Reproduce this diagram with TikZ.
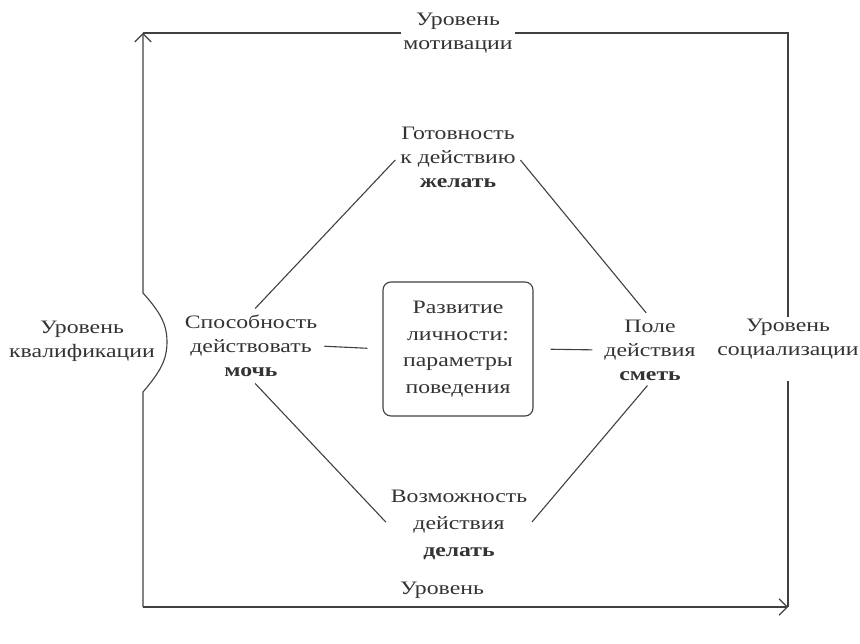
\documentclass[tikz,border=0pt]{standalone}
\usepackage{fontspec}
\setmainfont{Liberation Serif}[FakeStretch=1.25]
\usetikzlibrary{arrows.meta,calc}

\begin{document}
\begin{tikzpicture}[x=1pt, y=-1pt, >={Straight Barb[scale=2.2]},
    txt/.style={align=center, font=\fontsize{19}{24}\selectfont, text=black!80, inner sep=2pt},
    ln/.style={draw=black!75, line width=1.1pt},
    arr/.style={ln, ->},
    ]
    \useasboundingbox (0,0) rectangle (860,644);

    % Углы рамки
    \coordinate (tl) at (143,33);
    \coordinate (tr) at (788,33);
    \coordinate (bl) at (143,607);
    \coordinate (br) at (788,607);

    % Уровни по краям рамки
    \node[txt] (mot) at (458,33) {Уровень\\мотивации};
    \node[txt] (soc) at (788,339) {Уровень\\социализации};
    \node[txt] (kval) at (82,341) {Уровень\\квалификации};
    \node[txt] (bot) at (442,590) {Уровень};

    % Вершины ромба
    \node[txt] (top) at (458,157) {Готовность\\к действию\\\textbf{желать}};
    \node[txt] (left) at (251,346) {Способность\\действовать\\\textbf{мочь}};
    \node[txt] (right) at (650,350) {Поле\\действия\\\textbf{сметь}};
    \node[txt, font=\fontsize{19}{27}\selectfont] (down) at (459,525) {Возможность\\действия\\\textbf{делать}};

    % Центральный блок
    \node[txt, font=\fontsize{19}{26.5}\selectfont, draw=black!75, line width=1.1pt, rounded corners=8pt,
          minimum width=150pt, minimum height=134pt] (core) at (458,349)
          {Развитие\\личности:\\параметры\\поведения};

    % Стороны ромба
    \draw[ln, shorten <=6pt, shorten >=4pt] (left.north) -- (top.west);
    \draw[ln, shorten <=4pt, shorten >=6pt] (top.east) -- (right.north);
    \draw[ln, shorten <=6pt, shorten >=4pt] (left.south) -- (down.west);
    \draw[ln, shorten <=4pt, shorten >=4pt] (down.east) -- (right.south);

    % Связи с центром
    \draw[ln, shorten <=5pt, shorten >=15pt] (left.east) -- (core.west);
    \draw[ln, shorten <=17pt, shorten >=10pt] (core.east) -- (right.west);

    % Рамка
    \draw[arr] (bl) -- (br);
    \draw[arr] (bl) -- (143,392) .. controls (160,372) and (167,360) .. (167,342)
        .. controls (167,324) and (160,312) .. (143,293) -- (tl);
    \draw[ln] (tl) -- (mot.west);
    \draw[ln] (mot.east) -- (tr) -- (soc.north);
    \draw[ln, shorten <=20pt] (soc.south) -- (br);
\end{tikzpicture}
\end{document}
